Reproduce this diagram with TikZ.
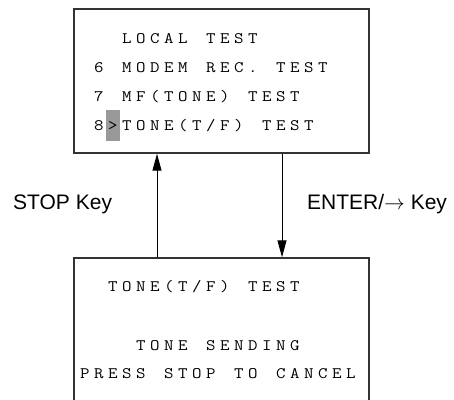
\documentclass[tikz,border=0pt]{standalone}
\usepackage{fontspec}
\usepackage{tikz}
\usetikzlibrary{arrows.meta,positioning}
\setsansfont{Liberation Sans}
\newfontfamily\lcdfont{Latin Modern Mono}[FakeStretch=1.15]
\definecolor{LcdFrame}  {HTML}{333333}
\definecolor{CursorBG}  {HTML}{999999}
% one character per 14pt cell, ~ is an empty cell
\newcommand\lcdrow[1]{\lcdscan#1\relax}
\def\lcdscan#1{\ifx\relax#1\else\makebox[14pt][l]{#1}\expandafter\lcdscan\fi}
\tikzset{
  lcdbox/.style={draw=LcdFrame,line width=1.4pt,minimum width=295pt,inner sep=0pt},
  lcdline/.style={anchor=base west,inner sep=0pt,font=\lcdfont\fontsize{16}{16}\selectfont},
  keylabel/.style={anchor=base west,inner sep=0pt,font=\sffamily\fontsize{21}{21}\selectfont},
  keyarrow/.style={line width=1pt,-{Triangle[length=17pt,width=9pt]}}
}

\begin{document}
\begin{tikzpicture}[x=1pt,y=-1pt]
    \useasboundingbox (0,0) rectangle (454,399);
    % menu screen
    \node[lcdbox,minimum height=144pt] (menu) at (221.5,81) {};
    \fill[CursorBG] (106,110) rectangle (120,141);
    \node[lcdline] (menutitle) at (94,43)   {\lcdrow{~~LOCAL~TEST}};
    \node[lcdline] (item6)     at (94,72.5) {\lcdrow{6~MODEM~REC.~TEST}};
    \node[lcdline] (item7)     at (94,101)  {\lcdrow{7~MF(TONE)~TEST}};
    \node[lcdline] (item8)     at (94,130)  {\lcdrow{8>TONE(T/F)~TEST}};
    % test screen, runs off the bottom
    \begin{scope}
      \clip (0,0) rectangle (454,399);
      \node[lcdbox,minimum height=180pt] (sending) at (221.5,348) {};
    \end{scope}
    \node[lcdline] (testtitle) at (80,291.5) {\lcdrow{~~TONE(T/F)~TEST}};
    \node[lcdline] (status)    at (80,350)   {\lcdrow{~~~~TONE~SENDING}};
    \node[lcdline] (hint)      at (80,378)   {\lcdrow{PRESS~STOP~TO~CANCEL}};
    % keys
    \coordinate (stopx)  at (157,0);
    \coordinate (enterx) at (282,0);
    \draw[keyarrow] (stopx |- sending.north) -- (stopx |- menu.south);
    \draw[keyarrow] (enterx |- menu.south) -- (enterx |- sending.north);
    \node[keylabel] (stopkey)  at (13,209)  {STOP Key};
    \node[keylabel] (enterkey) at (307,209) {ENTER/$\rightarrow$ Key};
\end{tikzpicture}
\end{document}
